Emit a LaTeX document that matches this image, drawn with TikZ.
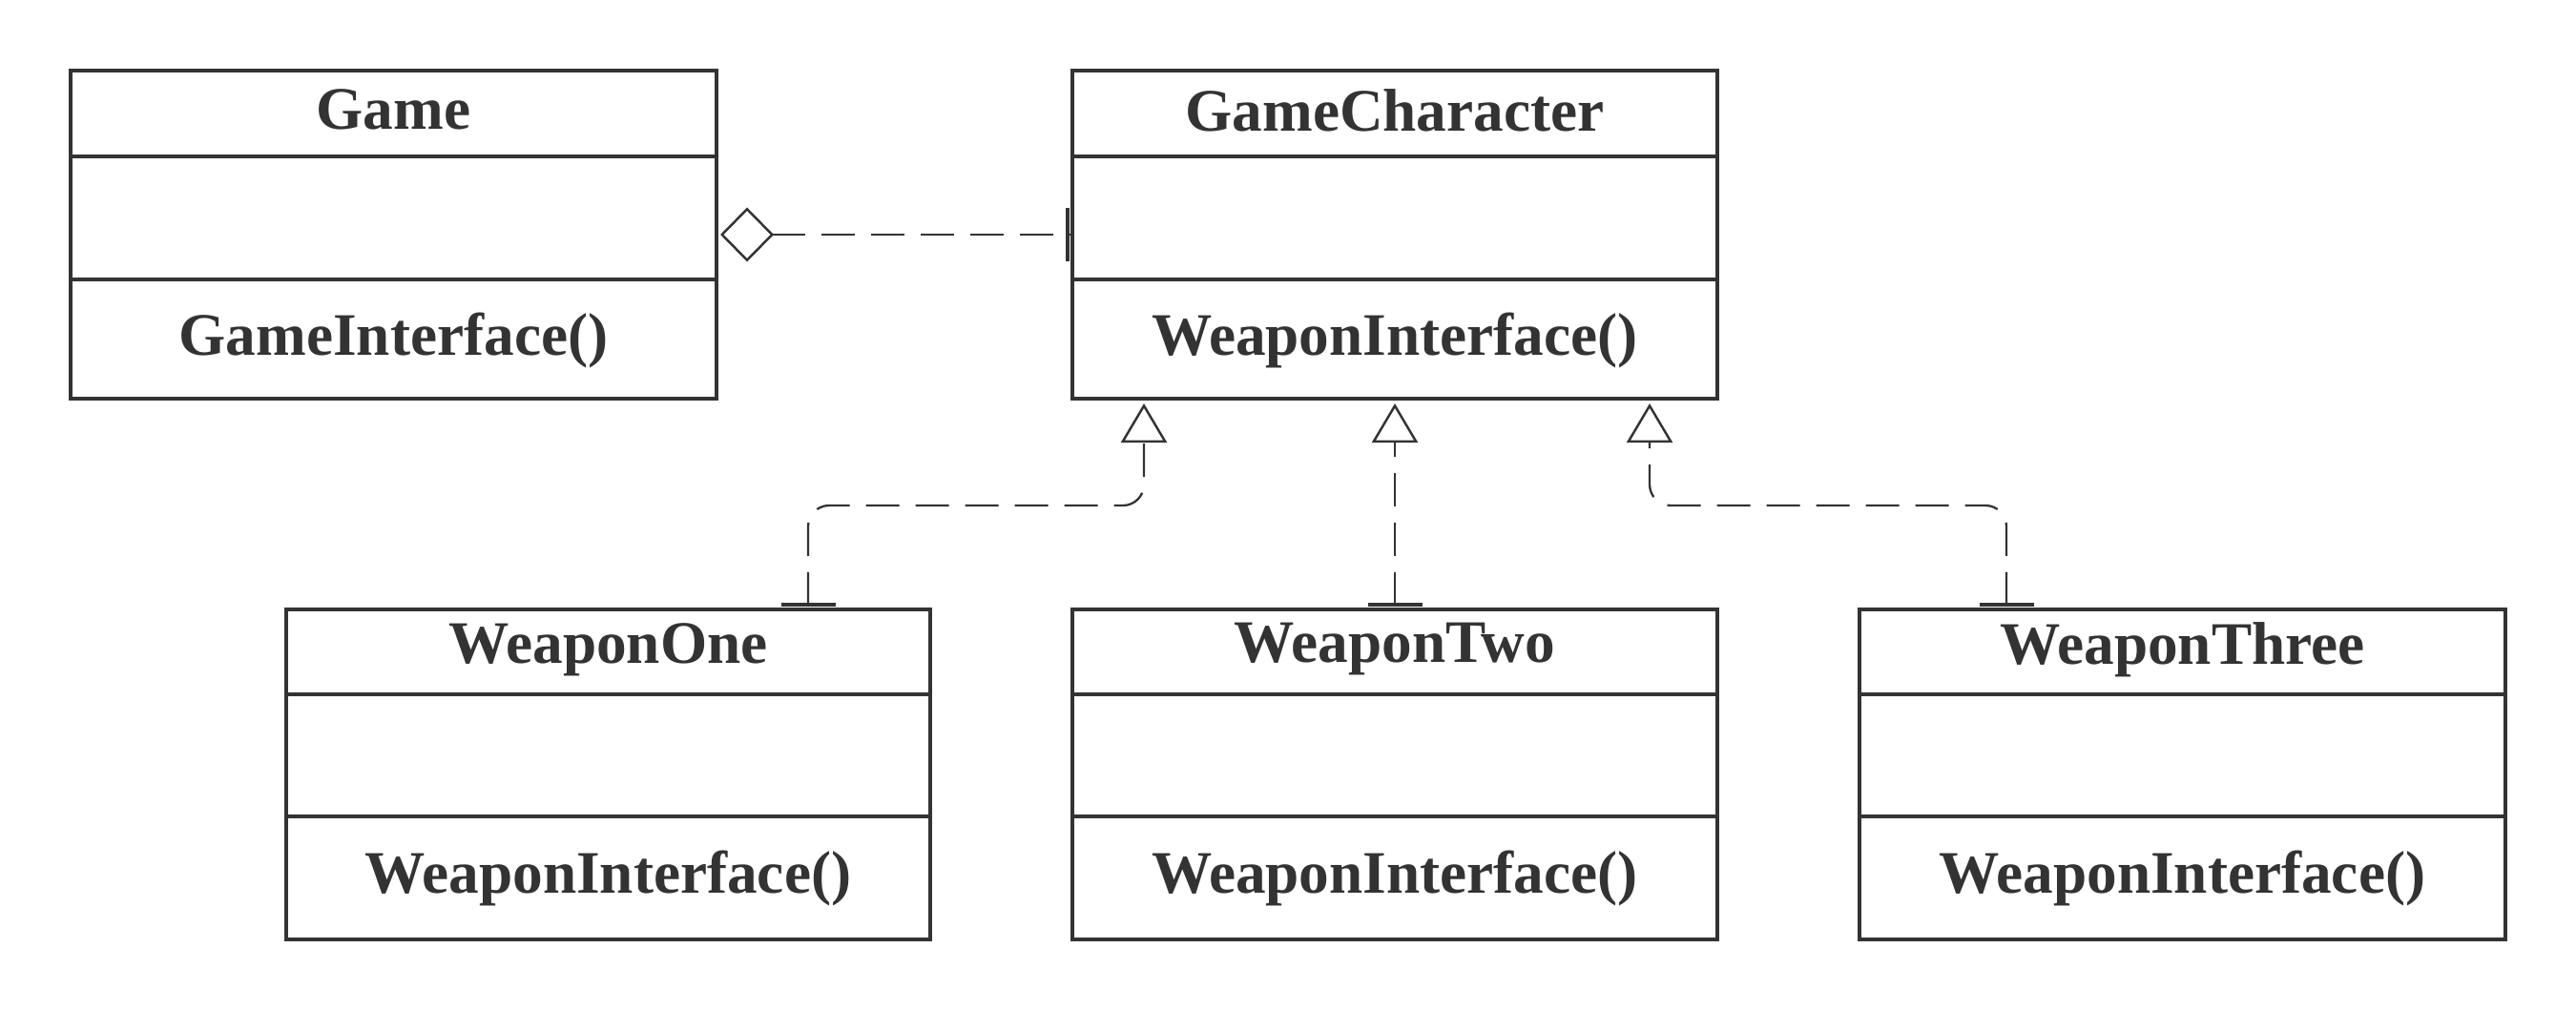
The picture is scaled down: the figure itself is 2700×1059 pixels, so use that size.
\documentclass[tikz,border=0pt]{standalone}
\usepackage{fontspec}
\setmainfont{Liberation Serif}
\usetikzlibrary{arrows.meta,fit}
\definecolor{ink}{HTML}{333333}
\begin{document}
\begin{tikzpicture}[x=0.1mm,y=-0.1mm,
  box/.style={draw=ink, line width=1.15pt, inner sep=0pt},
  divider/.style={draw=ink, line width=1.15pt},
  label/.style={text=ink, font=\fontsize{18}{20}\selectfont\bfseries, inner sep=0pt},
  conn/.style={draw=ink, line width=0.65pt, dash pattern=on 3.5mm off 1.7mm},
  gen/.style={conn, rounded corners=2.2mm, -{Triangle[open, length=4.1mm, width=4.8mm, line width=0.7pt]}},
  agg/.style={conn, {Diamond[open, length=5.6mm, width=5.7mm, line width=0.7pt]}-},
  tick/.style={draw=ink, line width=1.1pt}
]
\useasboundingbox (0,0) rectangle (2700,1059);

% Game
\node[box, fit={(74,74)(751,418)}] (game) {};
\draw[divider] (74,164) -- (751,164);
\draw[divider] (74,293) -- (751,293);
\node[label] (gameT) at (412.5,115) {Game};
\node[label] (gameM) at (412.5,357) {GameInterface()};

% GameCharacter
\node[box, fit={(1124,74)(1800,418)}] (gc) {};
\draw[divider] (1124,164) -- (1800,164);
\draw[divider] (1124,293) -- (1800,293);
\node[label] (gcT) at (1462,116) {GameCharacter};
\node[label] (gcM) at (1462,357) {WeaponInterface()};

% WeaponOne
\node[box, fit={(300,639)(975,985)}] (w1) {};
\draw[divider] (300,728) -- (975,728);
\draw[divider] (300,856) -- (975,856);
\node[label] (w1T) at (637.5,681) {WeaponOne};
\node[label] (w1M) at (637.5,921) {WeaponInterface()};

% WeaponTwo
\node[box, fit={(1124,639)(1800,985)}] (w2) {};
\draw[divider] (1124,728) -- (1800,728);
\draw[divider] (1124,856) -- (1800,856);
\node[label] (w2T) at (1462,681) {WeaponTwo};
\node[label] (w2M) at (1462,921) {WeaponInterface()};

% WeaponThree
\node[box, fit={(1949,639)(2626,985)}] (w3) {};
\draw[divider] (1949,728) -- (2626,728);
\draw[divider] (1949,856) -- (2626,856);
\node[label] (w3T) at (2287.5,681) {WeaponThree};
\node[label] (w3M) at (2287.5,921) {WeaponInterface()};

% aggregation
\draw[agg] ([xshift=0.2mm]game.east) -- (gc.west);
\draw[tick] ([xshift=-0.3mm,yshift=2.8mm]gc.west) -- ([xshift=-0.3mm,yshift=-2.8mm]gc.west);

% generalizations
\coordinate (mid) at (0,530);
\coordinate (s1) at ([xshift=20.95mm,yshift=0.2mm]w1.north);
\coordinate (s2) at ([yshift=0.2mm]w2.north);
\coordinate (s3) at ([xshift=-18.45mm,yshift=0.2mm]w3.north);
\coordinate (t1) at ([xshift=-26.3mm,yshift=-0.3mm]gc.south);
\coordinate (t2) at ([yshift=-0.3mm]gc.south);
\coordinate (t3) at ([xshift=26.7mm,yshift=-0.3mm]gc.south);

\draw[gen] (s1) -- (s1 |- mid) -- (t1 |- mid) -- (t1);
\draw[gen] (s2) -- (t2);
\draw[gen] (s3) -- (s3 |- mid) -- (t3 |- mid) -- (t3);

\draw[tick] ([xshift=-2.85mm,yshift=0.1mm]s1) -- ([xshift=2.85mm,yshift=0.1mm]s1);
\draw[tick] ([xshift=-2.85mm,yshift=0.1mm]s2) -- ([xshift=2.85mm,yshift=0.1mm]s2);
\draw[tick] ([xshift=-2.85mm,yshift=0.1mm]s3) -- ([xshift=2.85mm,yshift=0.1mm]s3);
\end{tikzpicture}
\end{document}
